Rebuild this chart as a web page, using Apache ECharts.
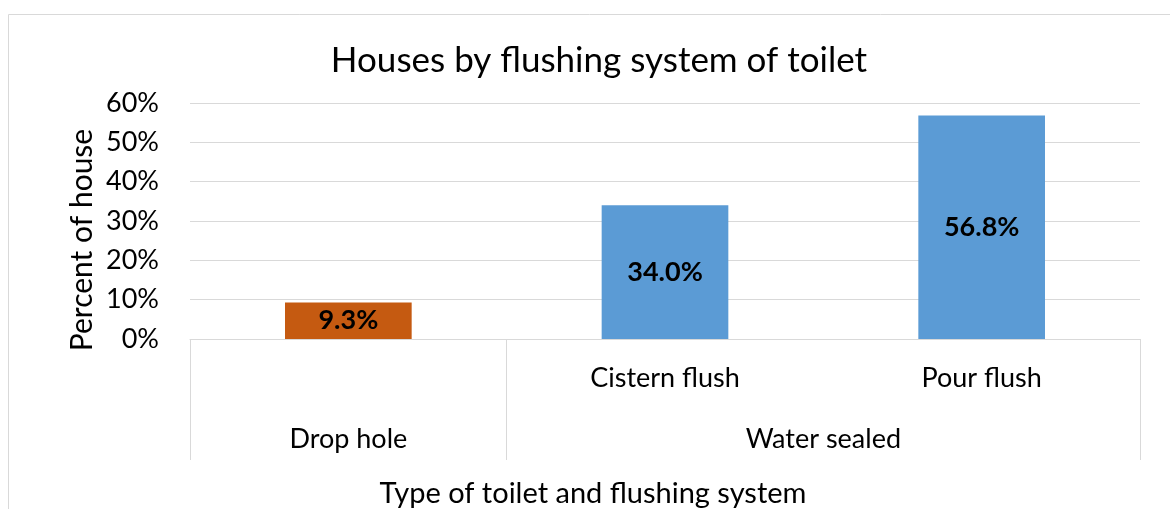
<!DOCTYPE html>
<html>
<head>
<meta charset="utf-8">
<script src="https://cdn.jsdelivr.net/npm/echarts@6/dist/echarts.min.js"></script>
<style>
  html, body { margin: 0; padding: 0; background: #fff; }
  #chart { width: 1170px; height: 509px; }
</style>
</head>
<body>
<div id="chart"></div>
<script>
  // categories (inner level) and their groups (outer level)
  var subLabels = ['', 'Cistern flush', 'Pour flush'];
  var groupLabels = ['Drop hole', 'Water sealed'];
  var groupSpans = [1, 2];
  var values = [9.3, 34.0, 56.8];
  var barColors = ['#C55A11', '#5B9BD5', '#5B9BD5'];
  var yTicks = [0, 10, 20, 30, 40, 50, 60];

  var FONT = 'Lato';

  // group boundaries and centres on a 0..n scale
  var bounds = [0], centres = [];
  var acc = 0;
  groupSpans.forEach(function (s) {
    centres.push(acc + s / 2);
    acc += s;
    bounds.push(acc);
  });

  var chart = echarts.init(document.getElementById('chart'));
  chart.setOption({
    animation: false,
    textStyle: { fontFamily: FONT },
    title: [{
      text: 'Houses by flushing system of toilet',
      left: 594, top: 38, textAlign: 'center',
      textStyle: { fontFamily: FONT, fontSize: 35, fontWeight: 'normal', color: '#000' }
    }, {
      text: 'Type of toilet and flushing system',
      left: 588, top: 474, textAlign: 'center',
      textStyle: { fontFamily: FONT, fontSize: 29, fontWeight: 'normal', color: '#000' }
    }],
    graphic: [{
      type: 'rect', silent: true,
      shape: { x: 8.5, y: 14.5, width: 1200, height: 600 },
      style: { fill: 'none', stroke: '#d9d9d9', lineWidth: 1 }
    }, {
      type: 'text', silent: true,
      x: 82, y: 240, rotation: Math.PI / 2,
      style: {
        text: 'Percent of house', fontFamily: FONT, fontSize: 30,
        fill: '#000', align: 'center', verticalAlign: 'middle'
      }
    }],
    grid: { left: 190, right: 30, top: 103, bottom: 170 },
    xAxis: [{
      type: 'category',
      data: subLabels,
      position: 'bottom',
      axisLine: { lineStyle: { color: '#d9d9d9', width: 1 } },
      axisTick: { show: false },
      axisLabel: { color: '#000', fontSize: 27, margin: 26, fontFamily: FONT }
    }, {
      type: 'value',
      position: 'bottom',
      min: 0, max: bounds[bounds.length - 1],
      axisLine: { show: false },
      splitLine: { show: false },
      axisTick: {
        show: true, length: 121, customValues: bounds,
        lineStyle: { color: '#d9d9d9', width: 1 }
      },
      axisLabel: {
        show: true, customValues: centres, margin: 87,
        color: '#000', fontSize: 27, fontFamily: FONT,
        formatter: function (v) {
          var i = centres.indexOf(v);
          return i >= 0 ? groupLabels[i] : '';
        }
      }
    }],
    yAxis: {
      type: 'value',
      min: yTicks[0], max: yTicks[yTicks.length - 1], interval: 10,
      axisLine: { show: false },
      axisTick: { show: false },
      splitLine: { lineStyle: { color: '#d9d9d9', width: 1 } },
      axisLabel: {
        color: '#000', fontSize: 27, margin: 31, fontFamily: FONT,
        formatter: '{value}%'
      }
    },
    series: [{
      type: 'bar',
      xAxisIndex: 0,
      barWidth: '40%',
      data: values.map(function (v, i) {
        return { value: v, itemStyle: { color: barColors[i] } };
      }),
      label: {
        show: true, position: 'inside',
        color: '#000', fontSize: 27, fontWeight: 'bold', fontFamily: FONT,
        formatter: function (p) { return p.value.toFixed(1) + '%'; }
      }
    }]
  });
</script>
</body>
</html>
